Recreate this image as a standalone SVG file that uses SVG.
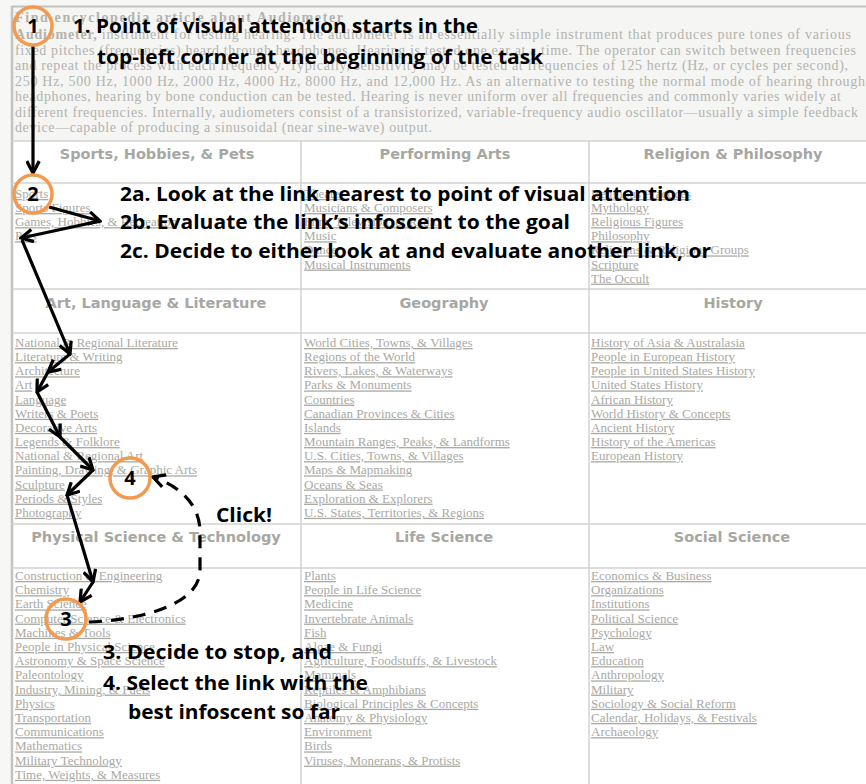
<svg xmlns="http://www.w3.org/2000/svg" width="866" height="784" viewBox="0 0 866 784">
<defs>
<style>
.para{font-family:"Liberation Serif",serif;font-size:14px;fill:#b3b3ae}
.hdr{font-family:"DejaVu Sans",sans-serif;font-weight:bold;font-size:14.5px;fill:#a7a7a2;text-anchor:middle}
.lnk{font-family:"Liberation Serif",serif;font-size:13px;fill:#a9a9a3;text-decoration:underline}
.grid{stroke:#d2d2d0;stroke-width:1.5;fill:none}
.ann{font-family:"Open Sans",Lato,sans-serif;font-weight:bold;font-size:20px;fill:#000}
.num{font-family:"Open Sans",Lato,sans-serif;font-weight:bold;font-size:20px;fill:#000;text-anchor:middle}
.ring{fill:none;stroke:#f39a4e;stroke-width:3.5}
.arr{stroke:#000;stroke-width:3.2;fill:none;marker-end:url(#ah)}
.dash{stroke:#000;stroke-width:3.2;fill:none;stroke-dasharray:13 9;marker-end:url(#ah)}
</style>
<marker id="ah" viewBox="0 0 12 12" refX="10.5" refY="6" markerWidth="15" markerHeight="15" markerUnits="userSpaceOnUse" orient="auto">
<path d="M1,1 L10.5,6 L1,11" fill="none" stroke="#000" stroke-width="2.6" stroke-dasharray="none"/>
</marker>
</defs>
<rect x="0" y="0" width="866" height="784" fill="#f7f7f5"/>
<rect x="12" y="7" width="854" height="134" fill="#f5f5f3"/>
<rect x="12" y="141" width="854" height="643" fill="#ffffff"/>
<line x1="12" y1="6.5" x2="866" y2="6.5" stroke="#c2c2be" stroke-width="2"/>
<line x1="12" y1="6" x2="12" y2="784" stroke="#c2c2be" stroke-width="2.5"/>

<g id="paragraph">
<text class="para" x="15" y="22" font-weight="bold" textLength="328">Find encyclopedia article about Audiometer</text>
<text class="para" x="15" y="39" textLength="836"><tspan font-weight="bold">Audiometer,</tspan> instrument for testing hearing. The audiometer is an essentially simple instrument that produces pure tones of various</text>
<text class="para" x="15" y="54.5" textLength="841">fixed pitches (frequencies) heard through headphones. Hearing is tested one ear at a time. The operator can switch between frequencies</text>
<text class="para" x="15" y="70" textLength="833">and repeat the process with each frequency. Typically, sensitivity may be tested at frequencies of 125 hertz (Hz, or cycles per second),</text>
<text class="para" x="15" y="85.5" textLength="850">250 Hz, 500 Hz, 1000 Hz, 2000 Hz, 4000 Hz, 8000 Hz, and 12,000 Hz. As an alternative to testing the normal mode of hearing through</text>
<text class="para" x="15" y="101" textLength="826">headphones, hearing by bone conduction can be tested. Hearing is never uniform over all frequencies and commonly varies widely at</text>
<text class="para" x="15" y="116.5" textLength="843">different frequencies. Internally, audiometers consist of a transistorized, variable-frequency audio oscillator—usually a simple feedback</text>
<text class="para" x="15" y="132" textLength="417">device—capable of producing a sinusoidal (near sine-wave) output.</text>
</g>

<g id="table-grid">
<line class="grid" x1="12" y1="141" x2="866" y2="141"/>
<line class="grid" x1="12" y1="183" x2="866" y2="183"/>
<line class="grid" x1="12" y1="289" x2="866" y2="289"/>
<line class="grid" x1="12" y1="333" x2="866" y2="333"/>
<line class="grid" x1="12" y1="524" x2="866" y2="524"/>
<line class="grid" x1="12" y1="568" x2="866" y2="568"/>
<line class="grid" x1="301" y1="141" x2="301" y2="784"/>
<line class="grid" x1="589" y1="141" x2="589" y2="784"/>
</g>

<g id="headers">
<text class="hdr" x="157" y="159">Sports, Hobbies, &amp; Pets</text>
<text class="hdr" x="445" y="159">Performing Arts</text>
<text class="hdr" x="733" y="159">Religion &amp; Philosophy</text>
<text class="hdr" x="156" y="308">Art, Language &amp; Literature</text>
<text class="hdr" x="444" y="308">Geography</text>
<text class="hdr" x="733" y="308">History</text>
<text class="hdr" x="156" y="542">Physical Science &amp; Technology</text>
<text class="hdr" x="444" y="542">Life Science</text>
<text class="hdr" x="732" y="542">Social Science</text>
</g>

<g id="links">
<text class="lnk" y="198"><tspan x="15">Sports</tspan><tspan x="15" dy="14.1">Sports Figures</tspan><tspan x="15" dy="14.1">Games, Hobbies, &amp; Recreation</tspan><tspan x="15" dy="14.1">Pets</tspan></text>
<text class="lnk" y="198"><tspan x="304">Theater</tspan><tspan x="304" dy="14.1">Musicians &amp; Composers</tspan><tspan x="304" dy="14.1">Film, Television, &amp; Radio</tspan><tspan x="304" dy="14.1">Music</tspan><tspan x="304" dy="14.1">Dance</tspan><tspan x="304" dy="14.1">Musical Instruments</tspan></text>
<text class="lnk" y="198"><tspan x="591">Religious Practices</tspan><tspan x="591" dy="14.1">Mythology</tspan><tspan x="591" dy="14.1">Religious Figures</tspan><tspan x="591" dy="14.1">Philosophy</tspan><tspan x="591" dy="14.1">Religions &amp; Religious Groups</tspan><tspan x="591" dy="14.1">Scripture</tspan><tspan x="591" dy="14.1">The Occult</tspan></text>

<text class="lnk" y="347"><tspan x="15">National &amp; Regional Literature</tspan><tspan x="15" dy="14.15">Literature &amp; Writing</tspan><tspan x="15" dy="14.15">Architecture</tspan><tspan x="15" dy="14.15">Art</tspan><tspan x="15" dy="14.15">Language</tspan><tspan x="15" dy="14.15">Writers &amp; Poets</tspan><tspan x="15" dy="14.15">Decorative Arts</tspan><tspan x="15" dy="14.15">Legends &amp; Folklore</tspan><tspan x="15" dy="14.15">National &amp; Regional Art</tspan><tspan x="15" dy="14.15">Painting, Drawing, &amp; Graphic Arts</tspan><tspan x="15" dy="14.15">Sculpture</tspan><tspan x="15" dy="14.15">Periods &amp; Styles</tspan><tspan x="15" dy="14.15">Photography</tspan></text>
<text class="lnk" y="347"><tspan x="304">World Cities, Towns, &amp; Villages</tspan><tspan x="304" dy="14.15">Regions of the World</tspan><tspan x="304" dy="14.15">Rivers, Lakes, &amp; Waterways</tspan><tspan x="304" dy="14.15">Parks &amp; Monuments</tspan><tspan x="304" dy="14.15">Countries</tspan><tspan x="304" dy="14.15">Canadian Provinces &amp; Cities</tspan><tspan x="304" dy="14.15">Islands</tspan><tspan x="304" dy="14.15">Mountain Ranges, Peaks, &amp; Landforms</tspan><tspan x="304" dy="14.15">U.S. Cities, Towns, &amp; Villages</tspan><tspan x="304" dy="14.15">Maps &amp; Mapmaking</tspan><tspan x="304" dy="14.15">Oceans &amp; Seas</tspan><tspan x="304" dy="14.15">Exploration &amp; Explorers</tspan><tspan x="304" dy="14.15">U.S. States, Territories, &amp; Regions</tspan></text>
<text class="lnk" y="347"><tspan x="591">History of Asia &amp; Australasia</tspan><tspan x="591" dy="14.15">People in European History</tspan><tspan x="591" dy="14.15">People in United States History</tspan><tspan x="591" dy="14.15">United States History</tspan><tspan x="591" dy="14.15">African History</tspan><tspan x="591" dy="14.15">World History &amp; Concepts</tspan><tspan x="591" dy="14.15">Ancient History</tspan><tspan x="591" dy="14.15">History of the Americas</tspan><tspan x="591" dy="14.15">European History</tspan></text>

<text class="lnk" y="580"><tspan x="15">Construction &amp; Engineering</tspan><tspan x="15" dy="14.2">Chemistry</tspan><tspan x="15" dy="14.2">Earth Science</tspan><tspan x="15" dy="14.2">Computer Science &amp; Electronics</tspan><tspan x="15" dy="14.2">Machines &amp; Tools</tspan><tspan x="15" dy="14.2">People in Physical Science</tspan><tspan x="15" dy="14.2">Astronomy &amp; Space Science</tspan><tspan x="15" dy="14.2">Paleontology</tspan><tspan x="15" dy="14.2">Industry, Mining, &amp; Fuels</tspan><tspan x="15" dy="14.2">Physics</tspan><tspan x="15" dy="14.2">Transportation</tspan><tspan x="15" dy="14.2">Communications</tspan><tspan x="15" dy="14.2">Mathematics</tspan><tspan x="15" dy="14.2">Military Technology</tspan><tspan x="15" dy="14.2">Time, Weights, &amp; Measures</tspan></text>
<text class="lnk" y="580"><tspan x="304">Plants</tspan><tspan x="304" dy="14.2">People in Life Science</tspan><tspan x="304" dy="14.2">Medicine</tspan><tspan x="304" dy="14.2">Invertebrate Animals</tspan><tspan x="304" dy="14.2">Fish</tspan><tspan x="304" dy="14.2">Algae &amp; Fungi</tspan><tspan x="304" dy="14.2">Agriculture, Foodstuffs, &amp; Livestock</tspan><tspan x="304" dy="14.2">Mammals</tspan><tspan x="304" dy="14.2">Reptiles &amp; Amphibians</tspan><tspan x="304" dy="14.2">Biological Principles &amp; Concepts</tspan><tspan x="304" dy="14.2">Anatomy &amp; Physiology</tspan><tspan x="304" dy="14.2">Environment</tspan><tspan x="304" dy="14.2">Birds</tspan><tspan x="304" dy="14.2">Viruses, Monerans, &amp; Protists</tspan></text>
<text class="lnk" y="580"><tspan x="591">Economics &amp; Business</tspan><tspan x="591" dy="14.2">Organizations</tspan><tspan x="591" dy="14.2">Institutions</tspan><tspan x="591" dy="14.2">Political Science</tspan><tspan x="591" dy="14.2">Psychology</tspan><tspan x="591" dy="14.2">Law</tspan><tspan x="591" dy="14.2">Education</tspan><tspan x="591" dy="14.2">Anthropology</tspan><tspan x="591" dy="14.2">Military</tspan><tspan x="591" dy="14.2">Sociology &amp; Social Reform</tspan><tspan x="591" dy="14.2">Calendar, Holidays, &amp; Festivals</tspan><tspan x="591" dy="14.2">Archaeology</tspan></text>
</g>

<g id="connectors">
<line class="arr" x1="33" y1="45" x2="33" y2="173"/>
<line class="arr" x1="49" y1="207" x2="100" y2="221"/>
<line class="arr" x1="100" y1="221" x2="21" y2="238"/>
<line class="arr" x1="22" y1="240" x2="70" y2="354"/>
<line class="arr" x1="70" y1="354" x2="48" y2="372"/>
<line class="arr" x1="48" y1="372" x2="37" y2="392"/>
<line class="arr" x1="37" y1="392" x2="60" y2="437"/>
<line class="arr" x1="60" y1="437" x2="93" y2="470"/>
<line class="arr" x1="93" y1="470" x2="67" y2="495"/>
<line class="arr" x1="67" y1="495" x2="93" y2="582"/>
<line class="arr" x1="93" y1="582" x2="80" y2="602"/>
<path class="dash" d="M 89 622 C 140 620, 200 605, 200 570 L 200 532 C 200 506, 182 487, 153 477"/>
</g>

<g id="n1"><circle class="ring" cx="33" cy="26" r="19"/><text class="num" x="33" y="33">1</text></g>
<g id="n2"><circle class="ring" cx="33" cy="194" r="19"/><text class="num" x="33" y="201">2</text></g>
<g id="n3"><circle class="ring" cx="66" cy="619" r="20"/><text class="num" x="66" y="626">3</text></g>
<g id="n4"><circle class="ring" cx="130" cy="478" r="20"/><text class="num" x="130" y="485">4</text></g>

<g id="annotations">
<text class="ann" x="73" y="33" textLength="405" lengthAdjust="spacingAndGlyphs">1. Point of visual attention starts in the</text>
<text class="ann" x="97" y="64" textLength="446" lengthAdjust="spacingAndGlyphs">top-left corner at the beginning of the task</text>
<text class="ann" x="120" y="201" textLength="570" lengthAdjust="spacingAndGlyphs">2a. Look at the link nearest to point of visual attention</text>
<text class="ann" x="120" y="229" textLength="450" lengthAdjust="spacingAndGlyphs">2b. Evaluate the link’s infoscent to the goal</text>
<text class="ann" x="120" y="258" textLength="591" lengthAdjust="spacingAndGlyphs">2c. Decide to either look at and evaluate another link, or</text>
<text class="ann" x="216" y="522" textLength="56" lengthAdjust="spacingAndGlyphs">Click!</text>
<text class="ann" x="103" y="659" textLength="229" lengthAdjust="spacingAndGlyphs">3. Decide to stop, and</text>
<text class="ann" x="103" y="690" textLength="265" lengthAdjust="spacingAndGlyphs">4. Select the link with the</text>
<text class="ann" x="128" y="719" textLength="212" lengthAdjust="spacingAndGlyphs">best infoscent so far</text>
</g>
</svg>
